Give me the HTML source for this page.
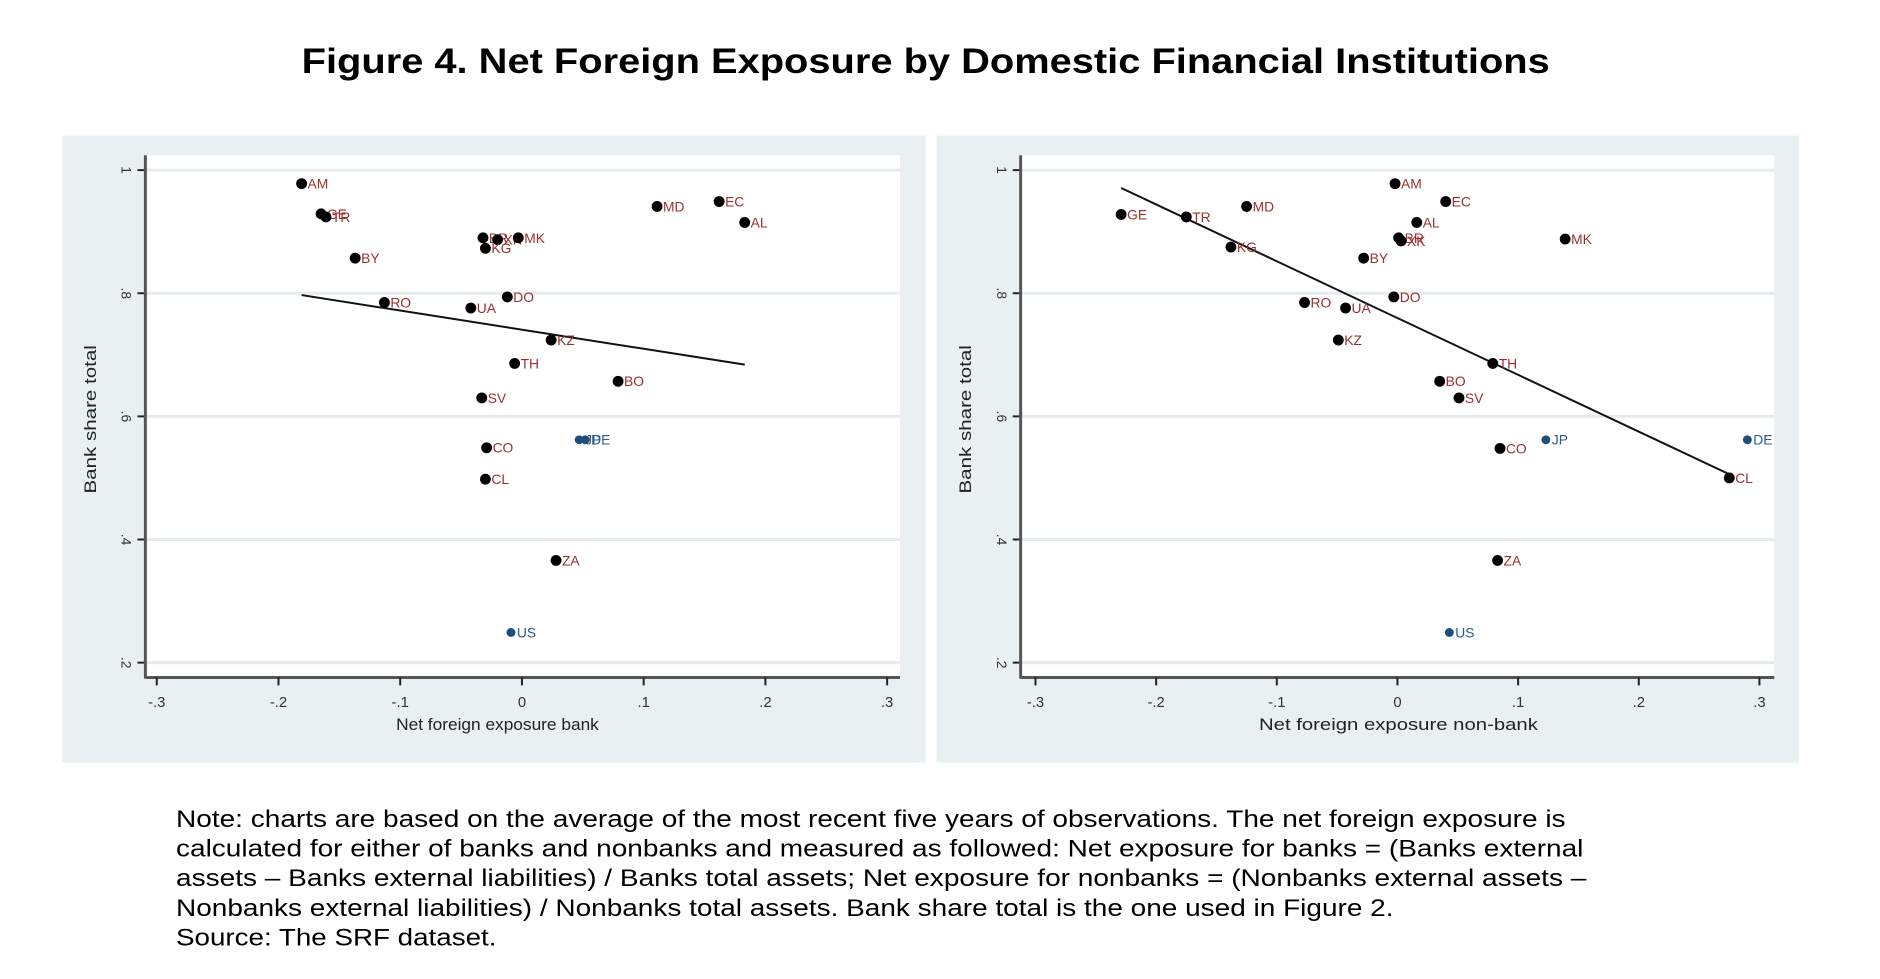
<!DOCTYPE html>
<html><head><meta charset="utf-8"><style>
html,body{margin:0;padding:0;background:#fff;}
svg{display:block;font-family:"Liberation Sans",sans-serif;}
</style></head><body>
<svg id="fig" width="1880" height="979" viewBox="0 0 1880 979">
<g transform="scale(0.989)">
<text x="936" y="74" text-anchor="middle" font-size="36" font-weight="bold" textLength="1262" lengthAdjust="spacingAndGlyphs">Figure 4. Net Foreign Exposure by Domestic Financial Institutions</text>
<g id="left"></g>
<g id="right"></g>
<g font-size="24" fill="#000">
<text x="178" y="836" textLength="1405" lengthAdjust="spacingAndGlyphs">Note: charts are based on the average of the most recent five years of observations. The net foreign exposure is</text>
<text x="178" y="866" textLength="1423" lengthAdjust="spacingAndGlyphs">calculated for either of banks and nonbanks and measured as followed: Net exposure for banks = (Banks external</text>
<text x="178" y="896" textLength="1426" lengthAdjust="spacingAndGlyphs">assets – Banks external liabilities) / Banks total assets; Net exposure for nonbanks = (Nonbanks external assets –</text>
<text x="178" y="926" textLength="1231" lengthAdjust="spacingAndGlyphs">Nonbanks external liabilities) / Nonbanks total assets. Bank share total is the one used in Figure 2.</text>
<text x="178" y="956" textLength="324" lengthAdjust="spacingAndGlyphs">Source: The SRF dataset.</text>
</g>
</g>
</svg>
<script>
const xTicks = [-0.3,-0.2,-0.1,0,0.1,0.2,0.3];
const xTickLabels = ["-.3","-.2","-.1","0",".1",".2",".3"];
const yTicks = [1,0.8,0.6,0.4,0.2];
const yTickLabels = ["1",".8",".6",".4",".2"];

const leftCodes = ["AM","GE","TR","BY","RO","UA","DO","BR","XK","MK","KG","MD","EC","AL","KZ","TH","BO","SV","JP","DE","CO","CL","ZA","US"];
const leftX = [-0.181,-0.165,-0.161,-0.137,-0.113,-0.042,-0.012,-0.032,-0.020,-0.003,-0.030,0.111,0.162,0.183,0.024,-0.006,0.079,-0.033,0.047,0.052,-0.029,-0.030,0.028,-0.009];
const leftY = [0.978,0.929,0.924,0.857,0.785,0.776,0.794,0.890,0.887,0.890,0.873,0.941,0.949,0.915,0.724,0.686,0.657,0.630,0.562,0.562,0.549,0.498,0.366,0.249];
const leftAdv = [0,0,0,0,0,0,0,0,0,0,0,0,0,0,0,0,0,0,1,1,0,0,0,1];
const leftFitX = [-0.181,0.183];
const leftFitY = [0.797,0.684];

const rightCodes = ["AM","EC","MD","GE","TR","AL","BR","XK","MK","KG","BY","DO","RO","UA","KZ","TH","BO","SV","CO","JP","DE","CL","ZA","US"];
const rightX = [-0.002,0.040,-0.125,-0.229,-0.175,0.016,0.001,0.003,0.139,-0.138,-0.028,-0.003,-0.077,-0.043,-0.049,0.079,0.035,0.051,0.085,0.123,0.290,0.275,0.083,0.043];
const rightY = [0.978,0.949,0.941,0.928,0.924,0.915,0.890,0.885,0.888,0.875,0.857,0.794,0.785,0.776,0.724,0.686,0.657,0.630,0.548,0.562,0.562,0.500,0.366,0.249];
const rightAdv = [0,0,0,0,0,0,0,0,0,0,0,0,0,0,0,0,0,0,0,1,1,0,0,1];
const rightFitX = [-0.229,0.275];
const rightFitY = [0.971,0.506];

const NS="http://www.w3.org/2000/svg";
function mk(tag,attrs,parent){const e=document.createElementNS(NS,tag);for(const k in attrs)e.setAttribute(k,attrs[k]);parent.appendChild(e);return e;}

function drawChart(g,cfg,codes,xs,ys,adv,fx,fy,title){
  const sx=v=>cfg.x0+(v+0.3)/0.6*(cfg.x1-cfg.x0);
  const sy=v=>cfg.y1-(v-0.2)/0.8*(cfg.y1-cfg.y0);
  const bg=mk('rect',{x:cfg.px,y:137,width:cfg.pw,height:634,fill:'#e8f0f2'},g);
  
  
  const pa=mk('rect',{x:cfg.ax,y:157,width:cfg.pr-cfg.ax,height:528,fill:'#fff'},g);
  
  
  yTicks.forEach((t,i)=>{
    const y=sy(t);
    const gl=mk('line',{x1:cfg.ax,x2:cfg.pr,y1:y,y2:y,stroke:'#e4ecef','stroke-width':3},g);
    
    
    mk('line',{x1:cfg.ax-8,x2:cfg.ax,y1:y,y2:y,stroke:'#222','stroke-width':2},g);
    const tl=mk('text',{x:0,y:0,'font-size':14,fill:'#333','text-anchor':'middle',transform:`translate(${cfg.ax-24},${y}) rotate(90)`},g);
    tl.textContent=yTickLabels[i];
    
    
  });
  const yax=mk('line',{x1:cfg.ax,x2:cfg.ax,y1:157,y2:686,stroke:'#555','stroke-width':3},g);
  
  
  const xax=mk('line',{x1:cfg.ax,x2:cfg.pr,y1:685,y2:685,stroke:'#555','stroke-width':3},g);
  
  
  xTicks.forEach((t,i)=>{
    const x=sx(t);
    mk('line',{x1:x,x2:x,y1:685,y2:693,stroke:'#222','stroke-width':2},g);
    const tl=mk('text',{x:x,y:715,'font-size':15,fill:'#333','text-anchor':'middle'},g);
    tl.textContent=xTickLabels[i];
    
    
  });
  const xt=mk('text',{x:cfg.xtc,y:738,'font-size':17,fill:'#222','text-anchor':'middle',textLength:cfg.xtl,lengthAdjust:'spacingAndGlyphs'},g);
  xt.textContent=title;
  
  
  const yt=mk('text',{x:0,y:0,'font-size':17,fill:'#222','text-anchor':'middle',textLength:150,lengthAdjust:'spacingAndGlyphs',transform:`translate(${cfg.ax-50},424) rotate(-90)`},g);
  yt.textContent='Bank share total';
  
  
  const fit=mk('line',{x1:sx(fx[0]),y1:sy(fy[0]),x2:sx(fx[1]),y2:sy(fy[1]),stroke:'#111','stroke-width':2},g);
  
  
  codes.forEach((c,i)=>{
    const x=sx(xs[i]),y=sy(ys[i]);
    const a=adv[i];
    const p=mk('circle',{cx:x,cy:y,r:a?4.5:5.5,fill:a?'#1f4e79':'#000'},g);
    
    
    const l=mk('text',{x:x+6,y:y+5,'font-size':14,fill:a?'#2a5a8a':'#9b2f2f'},g);
    l.textContent=c;
    
    
  });
}
drawChart(document.getElementById('left'),{px:63,pw:873,ax:147,pr:910,x0:158.5,x1:897,y0:172,y1:670,xtc:503,xtl:205},leftCodes,leftX,leftY,leftAdv,leftFitX,leftFitY,'Net foreign exposure bank');
drawChart(document.getElementById('right'),{px:947,pw:872,ax:1032,pr:1794,x0:1047,x1:1779,y0:172,y1:670,xtc:1414,xtl:282},rightCodes,rightX,rightY,rightAdv,rightFitX,rightFitY,'Net foreign exposure non-bank');
</script>
</body></html>
